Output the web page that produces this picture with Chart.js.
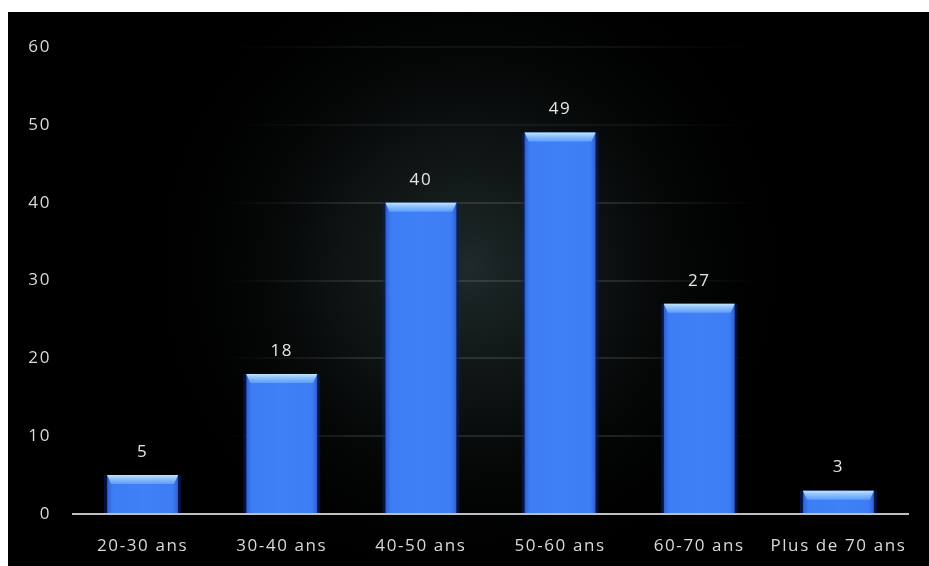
<!DOCTYPE html>
<html>
<head>
<meta charset="utf-8">
<script src="https://cdn.jsdelivr.net/npm/chart.js@4"></script>
<style>
  html, body { margin: 0; padding: 0; background: #ffffff; width: 929px; height: 566px; overflow: hidden; }
  #wrap { position: absolute; left: 8px; top: 12px; width: 921px; height: 554px; background: #000; }
  canvas { display: block; }
</style>
</head>
<body>
<div id="wrap"><canvas id="c" width="921" height="554"></canvas></div>
<script>
const categories = ["20-30 ans", "30-40 ans", "40-50 ans", "50-60 ans", "60-70 ans", "Plus de 70 ans"];
const values = [5, 18, 40, 49, 27, 3];
const yTicks = [0, 10, 20, 30, 40, 50, 60];

const FONT = "'Open Sans', Lato, sans-serif";

const spacingPlugin = {
  id: 'spacing',
  beforeInit(chart) { chart.ctx.letterSpacing = '1.6px'; },
  beforeDraw(chart) { chart.ctx.letterSpacing = '1.6px'; }
};

const bgPlugin = {
  id: 'bg',
  beforeDraw(chart) {
    const { ctx, width, height } = chart;
    ctx.save();
    ctx.fillStyle = '#000';
    ctx.fillRect(0, 0, width, height);
    const cx = width * 0.5, cy = height * 0.46;
    const g = ctx.createRadialGradient(cx, cy, 0, cx, cy, 330);
    g.addColorStop(0, 'rgba(34,46,46,0.9)');
    g.addColorStop(0.45, 'rgba(16,22,22,0.7)');
    g.addColorStop(1, 'rgba(0,0,0,0)');
    ctx.fillStyle = g;
    ctx.fillRect(0, 0, width, height);
    ctx.restore();
  }
};

const barFx = {
  id: 'barFx',
  afterDatasetsDraw(chart) {
    const { ctx } = chart;
    const meta = chart.getDatasetMeta(0);
    ctx.save();
    meta.data.forEach((bar, i) => {
      const w = bar.width, left = bar.x - w / 2, top = bar.y, bottom = bar.base;
      const h = bottom - top;
      ctx.fillStyle = 'rgba(10,30,110,0.55)';
      ctx.fillRect(left - 3, top, 3, h);
      ctx.fillRect(left + w, top, 3, h);
      const g = ctx.createLinearGradient(left, 0, left + w, 0);
      g.addColorStop(0, 'rgba(20,50,150,0.45)');
      g.addColorStop(0.1, 'rgba(60,120,255,0.05)');
      g.addColorStop(0.5, 'rgba(90,150,255,0.12)');
      g.addColorStop(0.9, 'rgba(60,120,255,0.05)');
      g.addColorStop(1, 'rgba(20,50,150,0.45)');
      ctx.fillStyle = g;
      ctx.fillRect(left, top, w, h);
      const capH = Math.min(9, h * 0.6);
      const inset = 4;
      ctx.beginPath();
      ctx.moveTo(left, top);
      ctx.lineTo(left + w, top);
      ctx.lineTo(left + w - inset, top + capH);
      ctx.lineTo(left + inset, top + capH);
      ctx.closePath();
      const cg = ctx.createLinearGradient(0, top, 0, top + capH);
      cg.addColorStop(0, 'rgba(200,235,255,0.95)');
      cg.addColorStop(1, 'rgba(120,185,255,0.55)');
      ctx.fillStyle = cg;
      ctx.fill();
      ctx.fillStyle = '#e6e6e6';
      ctx.font = "17px " + FONT;
      ctx.textAlign = 'center';
      ctx.textBaseline = 'middle';
      ctx.fillText(String(values[i]), bar.x, top - 23);
    });
    ctx.restore();
  }
};

function gridColor(c) {
  const { ctx, chartArea } = c.chart;
  if (!chartArea) return 'rgba(255,255,255,0.06)';
  const v = c.tick ? c.tick.value : 0;
  const a = v >= 50 ? 0.05 : 0.11;
  const g = ctx.createLinearGradient(chartArea.left, 0, chartArea.right, 0);
  g.addColorStop(0, 'rgba(255,255,255,0)');
  g.addColorStop(0.18, 'rgba(255,255,255,0)');
  g.addColorStop(0.35, 'rgba(255,255,255,' + a + ')');
  g.addColorStop(0.65, 'rgba(255,255,255,' + a + ')');
  g.addColorStop(0.82, 'rgba(255,255,255,0)');
  g.addColorStop(1, 'rgba(255,255,255,0)');
  return g;
}

new Chart(document.getElementById('c'), {
  type: 'bar',
  data: {
    labels: categories,
    datasets: [{
      data: values,
      backgroundColor: '#3d7ef5',
      borderWidth: 0,
      barPercentage: 0.6,
      categoryPercentage: 0.85
    }]
  },
  options: {
    responsive: false,
    animation: false,
    devicePixelRatio: 1,
    layout: { padding: { top: 35, right: 21, left: 0, bottom: 0 } },
    plugins: { legend: { display: false }, tooltip: { enabled: false } },
    scales: {
      x: {
        grid: { display: false, drawTicks: false },
        border: { display: true, color: '#c0c0c0', width: 2 },
        ticks: { color: '#d9d9d9', font: { family: FONT, size: 17 }, padding: 22, maxRotation: 0, autoSkip: false },
        afterFit(s) { s.height = 52; }
      },
      y: {
        min: 0, max: 60,
        afterBuildTicks(s) { s.ticks = yTicks.map(v => ({ value: v })); },
        grid: { color: gridColor, drawTicks: false, lineWidth: 2 },
        border: { display: false },
        ticks: { color: '#d9d9d9', font: { family: FONT, size: 17 }, padding: 22 },
        afterFit(s) { s.width = 65; }
      }
    }
  },
  plugins: [spacingPlugin, bgPlugin, barFx]
});
</script>
</body>
</html>
